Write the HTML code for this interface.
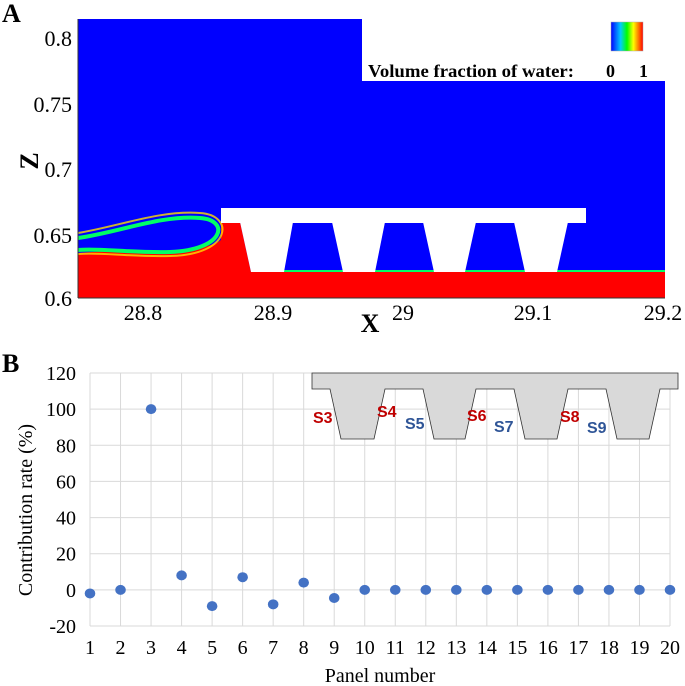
<!DOCTYPE html>
<html><head><meta charset="utf-8"><style>
html,body{margin:0;padding:0;background:#fff;}
svg{display:block;font-family:"Liberation Serif",serif;}
</style></head><body>
<svg width="685" height="686" viewBox="0 0 685 686">
<defs>
<linearGradient id="cb" x1="0" x2="1" y1="0" y2="0">
<stop offset="0" stop-color="#0000ff"/><stop offset="0.3" stop-color="#00ccff"/><stop offset="0.5" stop-color="#00ff00"/><stop offset="0.7" stop-color="#ffff00"/><stop offset="1" stop-color="#ff0000"/>
</linearGradient>
</defs>
<!-- Panel A -->
<g>
<text x="2" y="22" font-size="26" font-weight="bold">A</text>
<path d="M78,19 H362 V81 H665 V298 H78 Z" fill="#0000ff"/>
<path d="M78,253 C130,248 200,256 221,240 V222 H240 L251,272 H665 V298 H78 Z" fill="#ff0000"/>
<path d="M78,238 C120,232 160,215 200,218 C230,220 225,250 170,252 C130,253 100,248 78,250" fill="none" stroke="#00ff66" stroke-width="4"/>
<path d="M78,233 C120,226 160,210 200,213 C235,215 232,255 170,256 C130,257 100,252 78,254" fill="none" stroke="#ffdd00" stroke-width="2" opacity="0.8"/>
<line x1="251" y1="271" x2="665" y2="271" stroke="#00ff66" stroke-width="2"/>
<g fill="#fff">
<rect x="221" y="208" width="365" height="15"/>
<polygon points="240,222 293,222 284,272 251,272"/>
<polygon points="332,222 385,222 375,272 343,272"/>
<polygon points="423,222 476,222 465,272 434,272"/>
<polygon points="514,222 568,222 557,272 525,272"/>
</g>
<rect x="611" y="22" width="32" height="29" fill="url(#cb)" stroke="#aaa" stroke-width="0.5"/>
<text x="368" y="77" font-size="18" font-weight="bold" textLength="206" lengthAdjust="spacingAndGlyphs">Volume fraction of water:</text>
<text x="606" y="77" font-size="18" font-weight="bold">0</text>
<text x="639" y="77" font-size="18" font-weight="bold">1</text>
<g stroke="#333" stroke-width="1">
<line x1="78" y1="19" x2="78" y2="298"/><line x1="78" y1="298" x2="665" y2="298"/>
</g>
<g font-size="22" text-anchor="end">
<text x="72" y="46">0.8</text><text x="72" y="112">0.75</text><text x="72" y="177">0.7</text><text x="72" y="243">0.65</text><text x="72" y="306">0.6</text>
</g>
<g font-size="22" text-anchor="middle">
<text x="143" y="320">28.8</text><text x="273" y="320">28.9</text><text x="403" y="320">29</text><text x="533" y="320">29.1</text><text x="663" y="320">29.2</text>
</g>
<text x="370" y="332" font-size="26" font-weight="bold" text-anchor="middle">X</text>
<text transform="translate(38,161) rotate(-90)" font-size="26" font-weight="bold" text-anchor="middle">Z</text>
</g>
<!-- Panel B -->
<g>
<text x="2" y="372" font-size="26" font-weight="bold">B</text>
<g id="grid"></g>
<g id="inset">
<path d="M312,373 H678 V389 H660 L649,439 H617 L606,389 H568 L557,439 H525 L514,389 H476 L465,439 H434 L423,389 H385 L374,439 H341 L330,389 H312 Z" fill="#d9d9d9" stroke="#333" stroke-width="0.8"/>
<g font-family="'Liberation Sans',sans-serif" font-size="16" font-weight="bold">
<text x="313" y="423" fill="#c00000">S3</text>
<text x="377" y="417" fill="#c00000">S4</text>
<text x="405" y="429" fill="#2f5597">S5</text>
<text x="467" y="421" fill="#c00000">S6</text>
<text x="494" y="432" fill="#2f5597">S7</text>
<text x="560" y="422" fill="#c00000">S8</text>
<text x="587" y="433" fill="#2f5597">S9</text>
</g>
</g>
<g id="pts"></g>
<text transform="translate(32,510) rotate(-90)" font-size="20" text-anchor="middle">Contribution rate (%)</text>
<text x="380" y="682" font-size="20" text-anchor="middle">Panel number</text>
</g>
</svg>
<script>
const panels=[1,2,3,4,5,6,7,8,9,10,11,12,13,14,15,16,17,18,19,20];
const rates=[-2,0,100,8,-9,7,-8,4,-4.5,0,0,0,0,0,0,0,0,0,0,0];
const yTicks=[-20,0,20,40,60,80,100,120];
const NS="http://www.w3.org/2000/svg";
const X0=90,X1=670,Y0=626,Y1=373;
const sx=i=>X0+(i-1)*(X1-X0)/19;
const sy=v=>Y0-(v+20)*(Y0-Y1)/140;
const grid=document.getElementById('grid');
function mk(t,a,p){const e=document.createElementNS(NS,t);for(const k in a)e.setAttribute(k,a[k]);p.appendChild(e);return e;}
yTicks.forEach(v=>{
 const l=mk('line',{x1:X0,x2:X1,y1:sy(v),y2:sy(v),stroke:'#d9d9d9','stroke-width':1},grid);
 
 
 const t=mk('text',{x:X0-14,y:sy(v)+7,'font-size':20,'text-anchor':'end'},grid);
 t.textContent=v;
 
 
});
panels.forEach(p=>{
 const l=mk('line',{x1:sx(p),x2:sx(p),y1:Y1,y2:Y0,stroke:'#d9d9d9','stroke-width':1},grid);
 
 
 const t=mk('text',{x:sx(p),y:654,'font-size':20,'text-anchor':'middle'},grid);
 t.textContent=p;
 
 
});
const pts=document.getElementById('pts');
panels.forEach((p,i)=>{
 const c=mk('ellipse',{cx:sx(p),cy:sy(rates[i]),rx:5.3,ry:5,fill:'#4472c4'},pts);
 
 
});
</script>
</body></html>
